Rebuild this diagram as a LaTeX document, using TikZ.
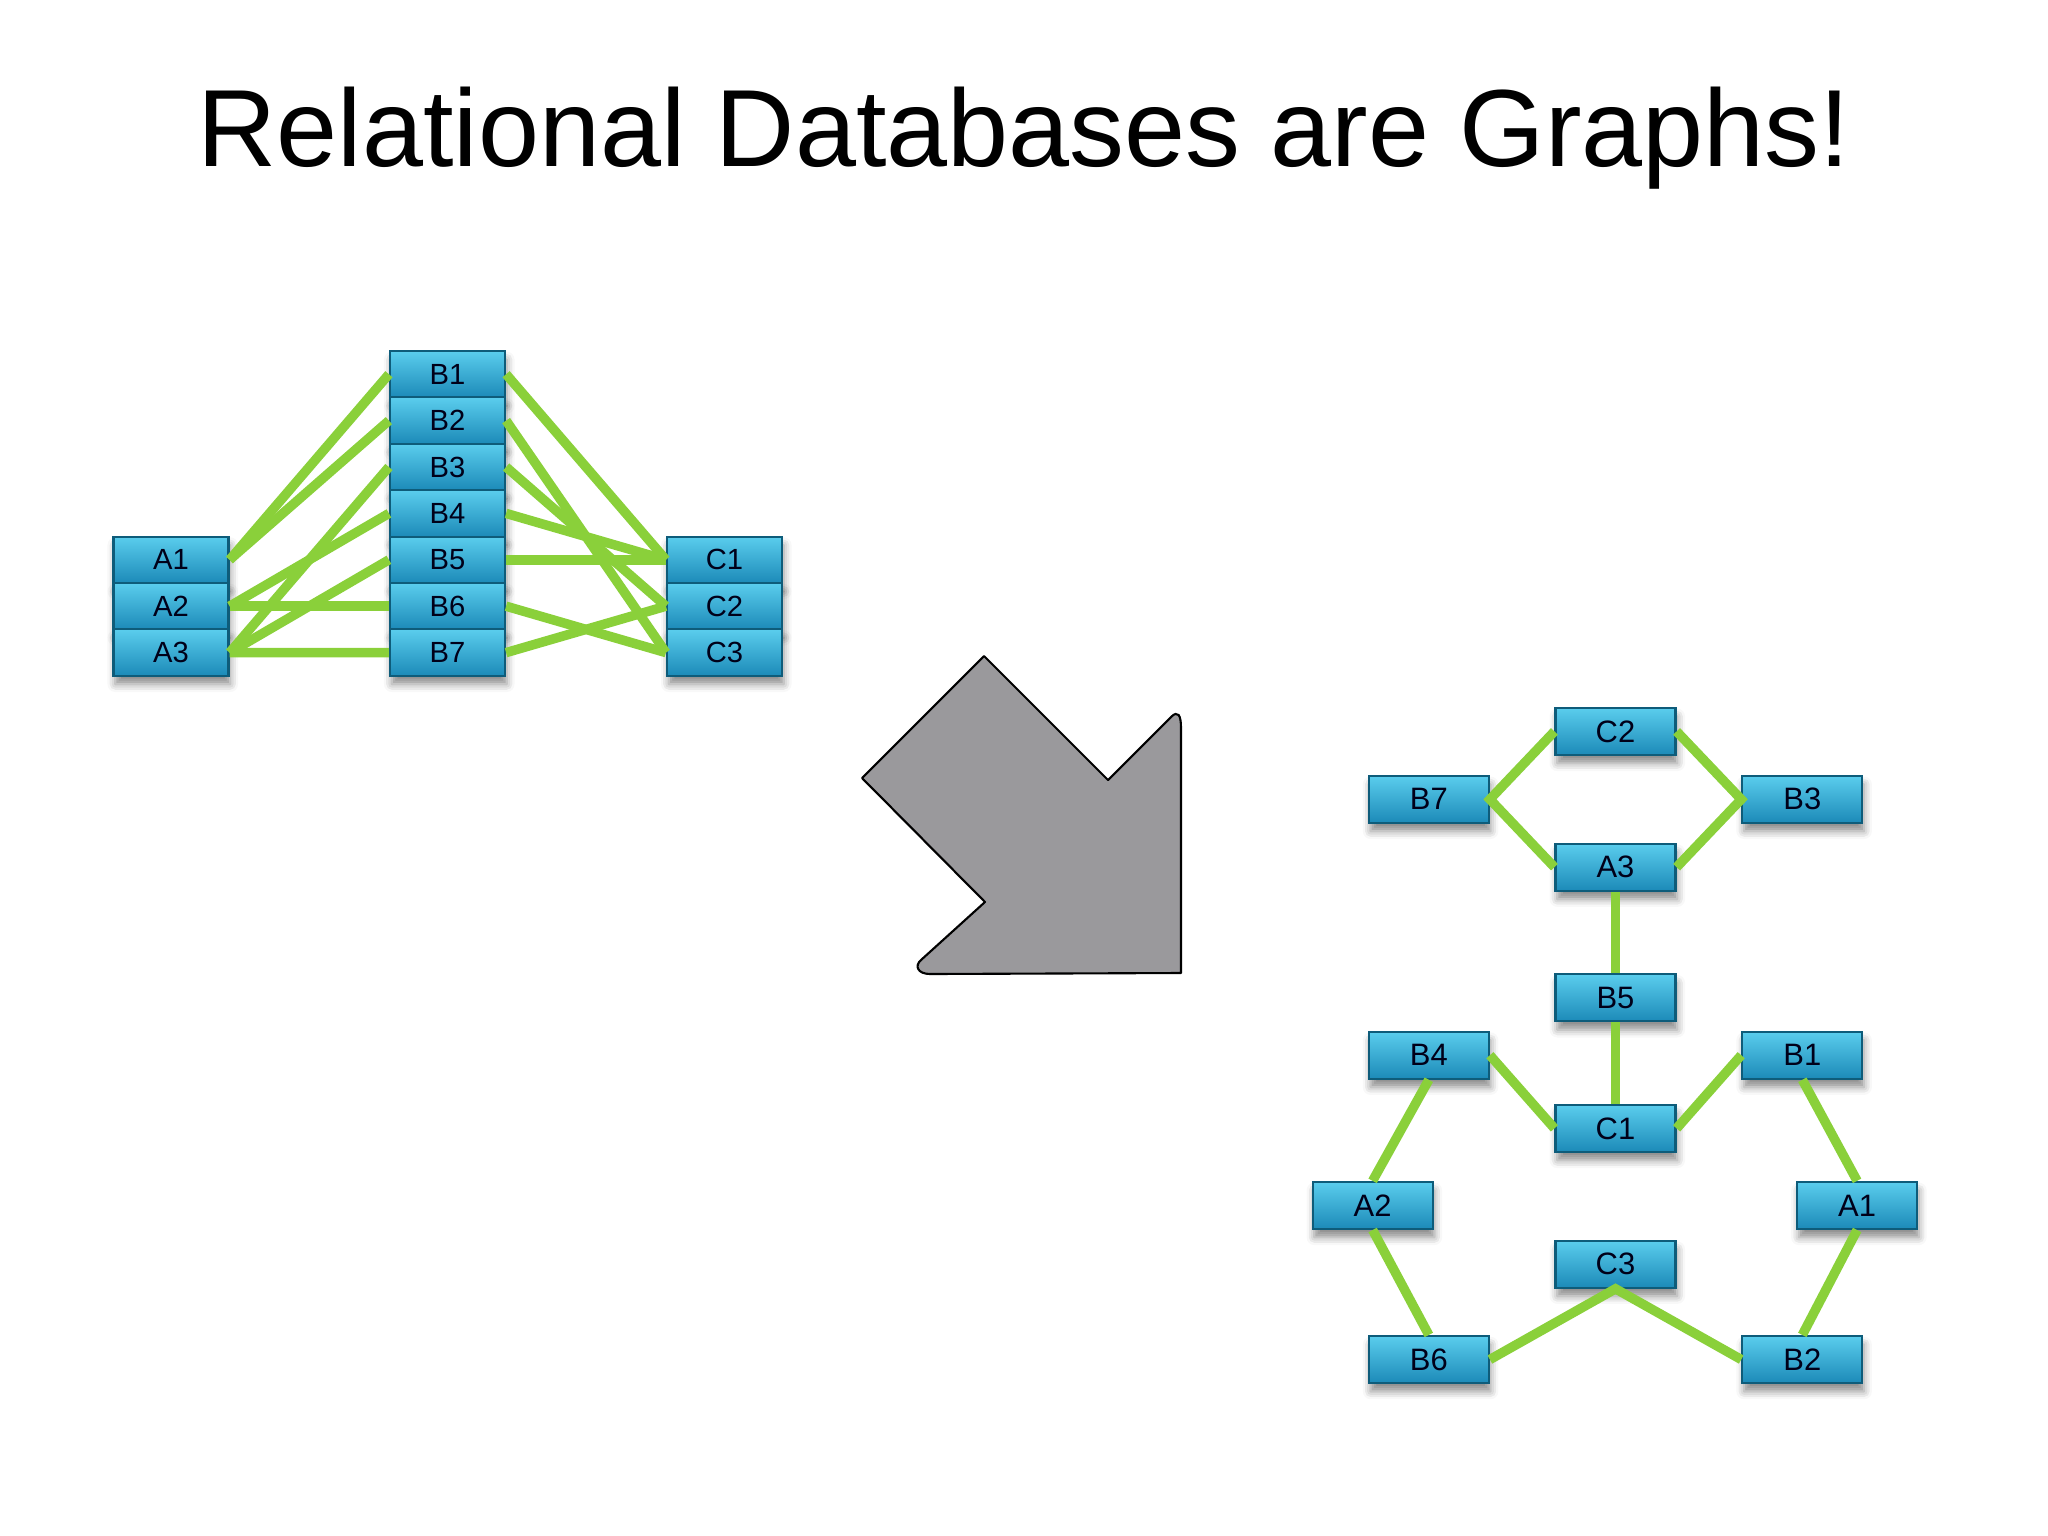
\documentclass[tikz,border=0pt]{standalone}
\usepackage{fontspec}
\setmainfont{Liberation Sans}
\usetikzlibrary{shadows.blur}
\definecolor{boxtop}{RGB}{90,205,237}
\definecolor{boxbot}{RGB}{28,138,184}
\definecolor{boxedge}{RGB}{14,92,122}
\definecolor{lnk}{RGB}{138,208,58}
\definecolor{arrowgray}{RGB}{154,153,156}
\begin{document}
\begin{tikzpicture}[x=0.01cm,y=-0.01cm,
	tbl/.style={rectangle,draw=boxedge,line width=0.6pt,top color=boxtop,bottom color=boxbot,
		minimum width=11.5mm,minimum height=4.64mm,inner sep=0pt,font=\fontsize{8.3}{9}\selectfont,
		text=black!90!blue,
		blur shadow={shadow xshift=0.5pt,shadow yshift=-2.4pt,shadow blur radius=2.2pt,shadow opacity=45}},
	gbox/.style={tbl,minimum width=12mm,minimum height=4.7mm,font=\fontsize{8.8}{9}\selectfont},
	rel/.style={lnk,line width=2.7pt}]
	\useasboundingbox (0,0) rectangle (2048,1536);
	\node[font=\fontsize{31.2}{36}\selectfont,anchor=base] (title) at (1024,166) {Relational Databases are Graphs!};
	% tables
	\foreach \i in {1,...,7}
		\node[tbl] (lB\i) at (447.5,{327.8+46.4*\i}) {B\i};
	\foreach \i in {1,...,3}{
		\node[tbl] (lA\i) at (171,{513.4+46.4*\i}) {A\i};
		\node[tbl] (lC\i) at (724.5,{513.4+46.4*\i}) {C\i};
	}
	\foreach \a/\b in {A1/B1,A1/B2,A2/B4,A2/B6,A3/B3,A3/B5,A3/B7}
		\draw[rel] (l\a.east)-- (l\b.west);
	\foreach \b/\c in {B1/C1,B2/C3,B3/C2,B4/C1,B5/C1,B6/C3,B7/C2}
		\draw[rel] (l\b.east)-- (l\c.west);
	% arrow
	\filldraw[fill=arrowgray,draw=black,line width=0.6pt,line join=round]
		(984,656)-- (1108,780)-- (1171,717) .. controls (1178,710) and (1181,715) .. (1181,728)
		-- (1181,973)-- (930,974) .. controls (918,974) and (914,966) .. (921,960)
		-- (985,902)-- (862,778)--cycle;
	% graph
	\node[gbox] (rC2) at (1615.5,731.4) {C2};
	\node[gbox] (rB7) at (1428.8,799.3) {B7};
	\node[gbox] (rB3) at (1802.3,799.3) {B3};
	\node[gbox] (rA3) at (1615.5,867.2) {A3};
	\node[gbox] (rB5) at (1615.5,997.8) {B5};
	\node[gbox] (rB4) at (1428.8,1055.2) {B4};
	\node[gbox] (rB1) at (1802.3,1055.2) {B1};
	\node[gbox] (rC1) at (1615.5,1128.4) {C1};
	\node[gbox] (rA2) at (1372.6,1205.4) {A2};
	\node[gbox] (rA1) at (1857.1,1205.4) {A1};
	\node[gbox] (rC3) at (1615.5,1264.2) {C3};
	\node[gbox] (rB6) at (1428.8,1359.5) {B6};
	\node[gbox] (rB2) at (1802.3,1359.5) {B2};
	\draw[rel] (rC2.west)-- (rB7.east)-- (rA3.west);
	\draw[rel] (rC2.east)-- (rB3.west)-- (rA3.east);
	\draw[rel] (rA3.south)-- (rB5.north);
	\draw[rel] (rB5.south)-- (rC1.north);
	\draw[rel] (rB4.east)-- (rC1.west);
	\draw[rel] (rB1.west)-- (rC1.east);
	\draw[rel] (rB4.south)-- (rA2.north);
	\draw[rel] (rA2.south)-- (rB6.north);
	\draw[rel] (rB1.south)-- (rA1.north);
	\draw[rel] (rA1.south)-- (rB2.north);
	\draw[rel] (rB6.east)-- (rC3.south)-- (rB2.west);
\end{tikzpicture}
\end{document}
